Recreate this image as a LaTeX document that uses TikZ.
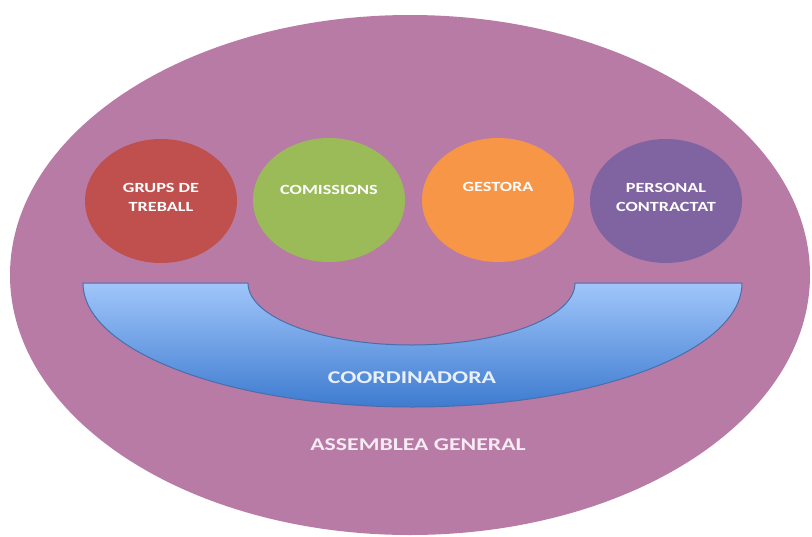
\documentclass[tikz,border=0pt]{standalone}
\usepackage{fontspec}
\setmainfont{Carlito}
\usetikzlibrary{shapes.geometric, positioning}

\definecolor{assembly}{RGB}{184,123,166}
\definecolor{grupsred}{RGB}{192,80,77}
\definecolor{comgreen}{RGB}{155,187,89}
\definecolor{gestorange}{RGB}{247,150,70}
\definecolor{perspurple}{RGB}{128,100,162}
\definecolor{bowltop}{RGB}{160,198,250}
\definecolor{bowlbot}{RGB}{62,123,208}
\definecolor{bowlline}{RGB}{74,110,170}
\definecolor{coordtext}{RGB}{232,240,252}
\definecolor{asstext}{RGB}{246,234,243}

\begin{document}
\begin{tikzpicture}[x=1pt, y=1pt,
        bubble/.style={ellipse, minimum width=152pt, minimum height=124pt, inner sep=0pt},
        lbl/.style={text=white, align=center, xscale=1.3, font=\bfseries\fontsize{14}{19}\selectfont},
        biglbl/.style={xscale=1.32, font=\bfseries\fontsize{18}{22}\selectfont}
    ]
        \useasboundingbox (0,0) rectangle (812,-536);

        \node[ellipse, fill=assembly, minimum width=800pt, minimum height=520pt, inner sep=0pt] (assemblea) at (410,-275) {};

        \node[bubble, fill=grupsred] (grups) at (161,-201) {};
        \node[bubble, fill=comgreen] (comissions) at (329,-200) {};
        \node[bubble, fill=gestorange] (gestora) at (498,-200) {};
        \node[bubble, fill=perspurple] (personal) at (666,-201) {};

        \node[lbl] (grupsT) at ([yshift=4pt]grups.center) {GRUPS DE\\TREBALL};
        \node[lbl] (comissionsT) at ([yshift=10pt]comissions.center) {COMISSIONS};
        \node[lbl] (gestoraT) at ([yshift=13pt]gestora.center) {GESTORA};
        \node[lbl] (personalT) at ([yshift=4pt]personal.center) {PERSONAL\\CONTRACTAT};

        \draw[bowlline, line width=1pt, top color=bowltop, bottom color=bowlbot]
            (83,-283) -- (248,-283)
            arc[start angle=180, end angle=360, x radius=163.5, y radius=62]
            -- (742,-283)
            arc[start angle=0, end angle=-180, x radius=329.5, y radius=124]
            -- cycle;

        \node[biglbl, text=coordtext] (coordinadora) at (412,-378) {COORDINADORA};
        \node[biglbl, text=asstext] (assembleaT) at (418,-445) {ASSEMBLEA GENERAL};

    \end{tikzpicture}
\end{document}
